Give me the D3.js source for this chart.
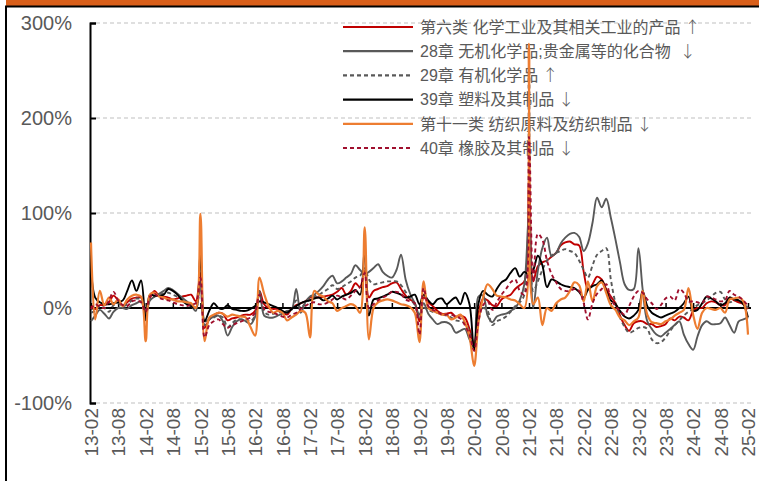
<!DOCTYPE html>
<html>
<head>
<meta charset="utf-8">
<script src="https://cdn.jsdelivr.net/npm/d3@7"></script>
<style>
  body { margin: 0; background: #fff; }
  svg { display: block; font-family: "Liberation Sans", Arial, "Noto Sans CJK SC", sans-serif; }
</style>
</head>
<body>
<svg id="chart" width="759" height="481"></svg>
<script>
// monthly yoy, %, starting 2013-02
var firstMonth = [2013, 1]

var tickLabels = ["13-02","13-08","14-02","14-08","15-02","15-08","16-02","16-08","17-02","17-08",
    "18-02","18-08","19-02","19-08","20-02","20-08","21-02","21-08","22-02","22-08",
    "23-02","23-08","24-02","24-08","25-02"]
var yTicks = [-100, 0, 100, 200, 300]

var seriesNames = ["第六类 化学工业及其相关工业的产品", "28章 无机化学品;贵金属等的化合物",
    "29章 有机化学品", "39章 塑料及其制品", "第十一类 纺织原料及纺织制品", "40章 橡胶及其制品"]
var seriesArrows = ["↑", "↓", "↑", "↓", "↓", "↓"]

var chem6 = [2,-1,3,3,6,13,8,3,6,10, 11,11,-5,10,18,13,12,11,9,10, 12,13,14,7,37,-21,-12,-8,-5,-6,
    -13,-11,-10,-8,-7,-7,-3,18,4,0, -1,-1,-4,-7,-1,3,5,7,11,12, 11,12,13,14,17,21,14,18,26,
    22,39,11,18,20,22,23,26,27,20, 13,9,5,-14,11,6,2,-3,-6,-6, -5,-9,-8,-10,-22,-38,-6,10,8,
    3,2,9,12,14,20,24,28,135,28, 44,48,50,54,58,66,69,70,67,66, 38,20,25,33,30,20,12,5,-8,
    -18,-24,-16,-14,-14,-17,-17,-20,-19,-17, -11,-13,-9,-10,-13,-3,0,0,5,7, 6,3,3,11,8,6,4,-1]

var inorg28 = [-14,-8,-2,-6,-11,-4,0,0,-1,3, 5,7,-7,8,12,15,18,21,19,15, 11,7,3,-3,30,-14,-12,-9,-8,-14,
    -29,-20,-14,-12,-14,-17,-9,18,-8,-10, -10,-8,-6,-3,-2,20,-5,6,12,14, 18,23,30,34,26,28,32,36,45,
    40,36,38,42,46,38,34,32,40,56, 30,15,5,-7,5,-6,-12,-17,-15,-15, -18,-26,-24,-22,-33,-42,12,13,-8,
    -15,-9,-7,-6,-3,0,8,25,100,0, 39,63,74,55,58,68,74,78,79,75, 60,68,90,116,106,115,95,72,48,
    25,19,20,63,20,-14,-22,-28,-30,-26, -22,-18,-14,-28,-38,-44,-30,-18,-14,-17, -17,-16,-10,-18,-26,-14,-12,-10]

var org29 = [-5,-3,2,0,-4,3,5,2,4,8, 10,9,-3,9,12,14,15,16,14,12, 9,6,3,-1,25,-18,-12,-10,-8,-10,
    -20,-16,-12,-12,-12,-14,-8,15,-4,-7, -6,-5,-4,-4,-2,8,0,5,9,12, 14,17,20,24,20,22,25,28,32,
    34,42,30,25,26,27,28,28,28,24, 17,10,3,-10,0,-2,-4,-5,-7,-8, -10,-13,-14,-16,-25,-42,-10,0,-3,
    -18,-14,-12,-9,-4,2,6,14,255,18, 28,40,50,55,58,60,62,60,58,50, 40,32,45,56,60,63,30,5,-10,
    -20,-26,-24,-21,-20,-22,-33,-37,-36,-31, -24,-18,-13,-8,-4,-1,3,5,8,12, 16,17,9,6,8,9,5,0]

var plastic39 = [42,11,6,4,4,5,6,8,18,29, 18,29,-13,14,13,13,14,20,18,14, 8,4,2,0,58,-14,-3,5,0,-1,
    3,-1,-2,-3,-3,-1,2,7,6,4, 2,0,-3,-5,-1,2,5,7,8,10, 11,8,10,13,9,12,14,16,19,
    14,62,-8,9,10,12,14,17,16,14, 11,12,14,4,14,8,4,9,10,4, 8,11,4,16,4,-45,5,18,14,
    12,20,27,30,37,42,33,38,35,40, 55,45,22,30,28,25,23,22,21,17, 11,19,23,25,29,18,8,4,-3,
    -9,-11,-8,-2,18,2,-5,-8,-10,-8, -6,-4,0,5,12,-3,-2,5,12,10, 7,3,5,11,9,8,4,-10]

var textile11 = [69,-12,18,3,11,4,9,2,9,13, 14,12,-35,14,16,12,11,9,9,7, 7,6,5,0,99,-35,-10,-7,-5,-6,
    -9,-7,-8,-9,-10,-20,-29,32,15,2, -5,-3,-5,-13,-10,-7,-3,-5,-31,18, 14,12,7,5,-3,0,2,4,2,
    -5,85,-33,0,6,8,9,8,6,4, 3,1,-5,-36,28,0,-3,-5,-7,-7, -12,-10,-7,-15,-30,-61,-15,11,25,
    20,13,12,11,9,8,4,0,278,4, 11,-18,0,-3,5,9,11,18,27,24, 7,28,7,23,27,16,3,-2,-10,
    -13,-18,-14,-10,18,-7,-15,-16,-17,-14, -12,-8,-5,-2,21,-7,-22,-5,0,-1, -2,0,-5,9,10,11,7,-28]

var rubber40 = [-1,4,1,0,8,17,8,3,2,7, 8,6,-4,12,15,11,9,8,6,4, 3,2,4,5,32,-31,-18,-14,-12,-17,
    -21,-18,-16,-14,-12,-10,-5,14,-1,-4, -5,-7,-9,-10,-7,-5,-1,2,5,6, 4,4,6,9,13,11,9,13,18,
    22,37,0,4,8,11,13,17,17,15, 9,7,5,-28,21,2,-2,-4,-7,-7, -7,-9,-11,-18,-28,-45,-14,3,7,
    -2,6,14,20,27,30,18,14,180,28, 78,72,50,36,27,20,18,18,20,18, 5,-12,5,15,20,25,10,2,-3,
    -7,2,12,18,16,9,5,-1,3,10, 12,8,20,16,7,7,6,5,12,11, 9,7,8,18,14,12,8,2]

var allSeries = [chem6, inorg28, org29, plastic39, textile11, rubber40]
var colors = ["#C00000", "#595959", "#595959", "#000000", "#ED7D31", "#A0102E"]
var dashes = [null, null, "4,3", null, null, "4,3"]

var svg = d3.select("#chart")

// header band and frame
svg.append("rect").attr("x", 6).attr("y", 0).attr("width", 753).attr("height", 6).attr("fill", "#D95F1A")
svg.append("line").attr("x1", 5).attr("x2", 759).attr("y1", 6.5).attr("y2", 6.5).attr("stroke", "#000").attr("stroke-width", 2)
svg.append("line").attr("x1", 6).attr("x2", 6).attr("y1", 6).attr("y2", 481).attr("stroke", "#000").attr("stroke-width", 2)

var parseLabel = function (s) { return new Date(2000 + +s.slice(0, 2), +s.slice(3) - 1, 1) }
var tickDates = tickLabels.map(parseLabel)
var dates = chem6.map(function (d, i) { return new Date(firstMonth[0], firstMonth[1] + i, 1) })

var x = d3.scaleTime().domain([tickDates[0], tickDates[tickDates.length - 1]]).range([91, 748])
var y = d3.scaleLinear().domain([-100, 300]).range([403, 23])

// gridlines
svg.append("g").selectAll("line").data(yTicks).enter().append("line")
    .attr("x1", 96).attr("x2", 751)
    .attr("y1", function (d) { return y(d) }).attr("y2", function (d) { return y(d) })
    .attr("stroke", "#BFBFBF").attr("stroke-width", 1.2).attr("stroke-dasharray", "4,3")

// y axis, ticks pointing inward
var yAxis = svg.append("g").attr("transform", "translate(90,0)")
    .call(d3.axisLeft(y).tickValues(yTicks).tickSize(-6).tickPadding(18).tickFormat(function (d) { return d + "%" }))
yAxis.select(".domain").attr("stroke", "#000").attr("stroke-width", 2)
yAxis.selectAll(".tick line").attr("stroke", "#000").attr("stroke-width", 2)
yAxis.selectAll("text").attr("fill", "#595959").style("font-size", "20px").style("font-family", null)

// x labels at the bottom
var xAxis = svg.append("g").attr("transform", "translate(0,403)")
    .call(d3.axisBottom(x).tickValues(tickDates).tickSize(0).tickFormat(function (d, i) { return tickLabels[i] }))
xAxis.select(".domain").remove()
xAxis.selectAll("text")
    .attr("fill", "#595959").style("font-size", "19px").style("font-family", null)
    .attr("transform", "rotate(-90)").attr("text-anchor", "end")
    .attr("x", -5).attr("y", 0).attr("dy", "0.35em")

// legend
var legend = svg.append("g").selectAll("g").data(seriesNames).enter().append("g")
    .attr("transform", function (d, i) { return "translate(343," + (27 + i * 24.2) + ")" })
legend.append("line").attr("x1", 0).attr("x2", 70)
    .attr("stroke", function (d, i) { return colors[i] })
    .attr("stroke-width", 2.2)
    .attr("stroke-dasharray", function (d, i) { return dashes[i] })
var legendText = legend.append("text").attr("x", 77).attr("dy", "0.36em")
    .attr("fill", "#595959").style("font-size", "16px")
legendText.append("tspan").text(function (d) { return d })
legendText.append("tspan")
    .attr("dx", function (d, i) { return i == 1 ? 9 : 4 })
    .style("font-family", "'Noto Sans CJK SC'")
    .style("font-weight", 300)
    .text(function (d, i) { return seriesArrows[i] })

// zero line with upward ticks
svg.append("line").attr("x1", 90).attr("x2", 751).attr("y1", y(0)).attr("y2", y(0))
    .attr("stroke", "#000").attr("stroke-width", 2)
var zAxis = svg.append("g").attr("transform", "translate(0," + y(0) + ")")
    .call(d3.axisTop(x).tickValues(tickDates).tickSize(5).tickSizeOuter(0).tickFormat(""))
zAxis.select(".domain").remove()
zAxis.selectAll(".tick line").attr("stroke", "#000").attr("stroke-width", 1.5)

// series
var line = d3.line()
    .x(function (d, i) { return x(dates[i]) })
    .y(function (d) { return y(d) })
    .curve(d3.curveCatmullRom)

svg.append("g").selectAll("path").data(allSeries).enter().append("path")
    .attr("d", line)
    .attr("fill", "none")
    .attr("stroke", function (d, i) { return colors[i] })
    .attr("stroke-width", function (d, i) { return i == 4 ? 2.2 : 1.9 })
    .attr("stroke-dasharray", function (d, i) { return dashes[i] })
    .attr("stroke-linejoin", "round")
</script>
</body>
</html>
